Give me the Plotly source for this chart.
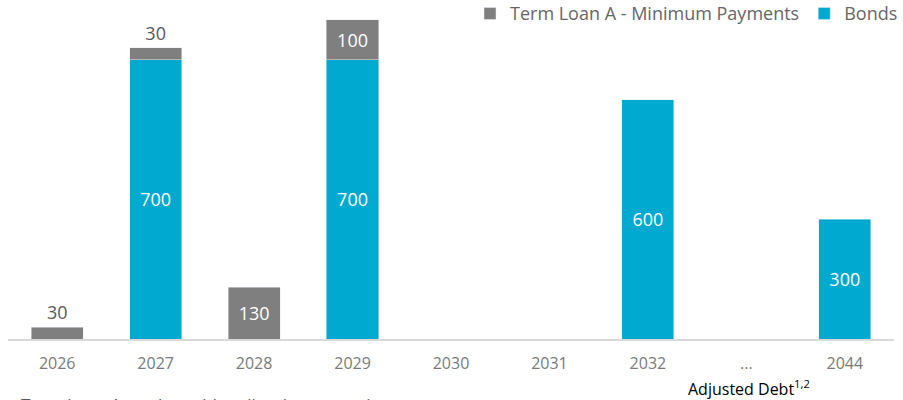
import plotly.graph_objects as go

categories = ["2026", "2027", "2028", "2029", "2030", "2031", "2032", "...", "2044"]
bonds = [None, 700, None, 700, None, None, 600, None, 300]
term_loan_a = [30, 30, 130, 100, None, None, None, None, None]

GRAY = "#7f7f7f"
BLUE = "#00a9cf"
FONT = "Open Sans"

tla_pos = ["outside", "outside", "inside", "inside", "inside", "inside", "inside", "inside", "inside"]
tla_col = ["#595959", "#595959", "white", "white", "white", "white", "white", "white", "white"]

fig = go.Figure()
fig.add_trace(go.Bar(
    x=categories, y=bonds, name="Bonds", marker_color=BLUE,
    text=[str(v) if v else "" for v in bonds], textposition="inside",
    insidetextanchor="middle", textfont=dict(color="white", size=18, family=FONT),
))
fig.add_trace(go.Bar(
    x=categories, y=term_loan_a, name="Term Loan A - Minimum Payments", marker_color=GRAY,
    text=[str(v) if v else "" for v in term_loan_a], textposition=tla_pos,
    insidetextanchor="middle", textfont=dict(color=tla_col, size=18, family=FONT),
    cliponaxis=False,
))

fig.update_layout(
    width=903, height=400, barmode="stack", bargap=0.47,
    margin=dict(l=8, r=9, t=0, b=61, autoexpand=False),
    plot_bgcolor="white", paper_bgcolor="white",
    font=dict(family=FONT, color="#595959"),
    legend=dict(orientation="h", traceorder="reversed", xref="container", x=1.0, xanchor="right",
                y=1.014, yanchor="top", itemwidth=30,
                font=dict(size=18, color="#666666", family=FONT), bgcolor="rgba(0,0,0,0)"),
    xaxis=dict(type="category", showline=True, linecolor="#d9d9d9", linewidth=2, automargin=False,
               tickfont=dict(size=16, color="#7a7a7a", family=FONT), ticks="", showgrid=False,
               ticklabelstandoff=9),
    yaxis=dict(visible=False, range=[0, 850], showgrid=False, zeroline=False, automargin=False),
    annotations=[
        dict(text="Adjusted Debt<sup>1,2</sup>", x=0.836, y=-0.145, xref="paper", yref="paper",
             xanchor="center", yanchor="middle", showarrow=False,
             font=dict(size=16, color="#000000", family=FONT)),
        dict(text="Term Loan A can be paid earlier than maturity; our", x=0.012, y=-0.152,
             xref="paper", yref="paper", xanchor="left", yanchor="top", showarrow=False,
             font=dict(size=17, color="#595959", family=FONT)),
    ],
)

fig.write_html("out.html", config={"displayModeBar": False},
               post_script="document.body.style.margin='0px';")
